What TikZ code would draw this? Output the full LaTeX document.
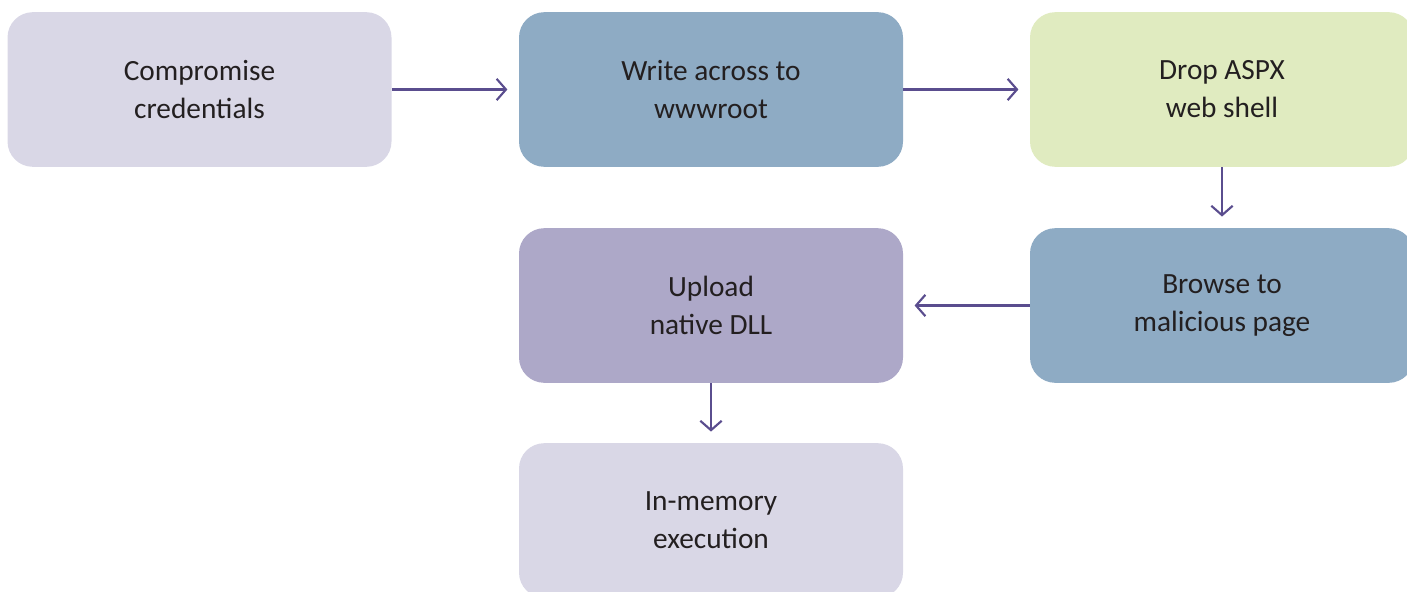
\documentclass[tikz,border=0pt]{standalone}
\usepackage{fontspec}
\setmainfont{Carlito}
\usepackage{xcolor}
\usetikzlibrary{arrows.meta}

\definecolor{lav}{HTML}{D9D7E6}
\definecolor{steel}{HTML}{8EABC4}
\definecolor{lime}{HTML}{E0EBC0}
\definecolor{violet}{HTML}{ADA8C8}
\definecolor{arrowcol}{HTML}{5A4D8E}
\definecolor{txt}{HTML}{231F20}

\tikzset{
	stepbox/.style={rounded corners=19pt, minimum width=288pt, minimum height=116pt,
		align=center, text=txt, font=\fontsize{22}{28.5}\selectfont, inner sep=0pt},
	flow/.style={draw=arrowcol, line width=1.6pt, shorten >=8.5pt,
		-{Straight Barb[length=7pt, width=16pt, line width=1.6pt]}}
}

\begin{document}
\begin{tikzpicture}[x=0.75pt, y=-0.75pt]
	\useasboundingbox (0,0) rectangle (1407,592);
	\clip (0,0) rectangle (1407,592);
	\node (cred) at (199.5,89.5) [stepbox, fill=lav] {Compromise\\credentials};
	\node (root) at (711,89.5) [stepbox, fill=steel] {Write across to\\wwwroot};
	\node (shell) at (1222,89.5) [stepbox, fill=lime] {Drop ASPX\\web shell};
		\node (page) at (1222,305.5) [stepbox, fill=steel] {Browse to\\malicious page};
		\node (dll) at (711,305.5) [stepbox, fill=violet] {Upload\\native DLL};
			\node (exec) at (711,520.5) [stepbox, fill=lav] {In-memory\\execution};
	\draw[flow] (cred) to (root);
	\draw[flow] (root) to (shell);
	\draw[flow] (shell) to (page);
	\draw[flow] (page) to (dll);
	\draw[flow] (dll) to (exec);
	\end{tikzpicture}
\end{document}
